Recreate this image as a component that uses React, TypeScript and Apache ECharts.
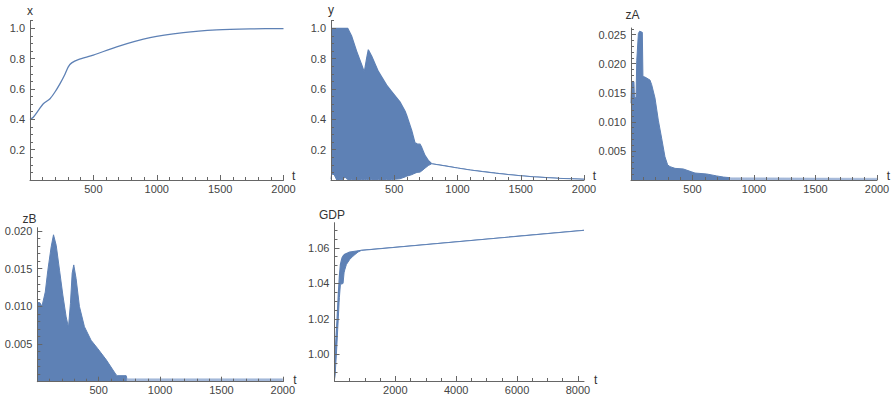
import React, { useEffect, useRef } from "react";
import * as echarts from "echarts";

const BLUE = "#5E81B5";
const LIGHT = "#a4b8d9";
const AXIS = "#666666";
const LABEL = "#444444";
const FONT = '"Liberation Sans", Arial, sans-serif';

// ---- panel "x" ----
const tX = [0, 26, 66, 105, 158, 197, 237, 276, 302, 329, 381, 500, 684, 947, 1210, 1473, 1736, 2000];
const xValues = [0.399, 0.414, 0.459, 0.503, 0.536, 0.58, 0.635, 0.697, 0.746, 0.772, 0.794, 0.823, 0.878, 0.938, 0.971, 0.989, 0.996, 0.998];

// ---- panel "y" (oscillating band: upper / lower envelope) ----
const tY = [0, 5, 25, 45, 60, 95, 110, 120, 132, 164, 203, 243, 263, 282, 295, 322, 374, 440, 480, 545, 585, 598, 638, 664, 680, 704, 717, 743, 769, 796, 900, 1000, 1100, 1200, 1300, 1400, 1500, 1600, 1700, 1800, 1900, 2000];
const yUpper = [1.0, 1.0, 1.0, 1.0, 1.0, 1.0, 1.0, 1.0, 1.0, 0.947, 0.848, 0.759, 0.712, 0.804, 0.859, 0.815, 0.716, 0.625, 0.583, 0.515, 0.455, 0.427, 0.327, 0.245, 0.238, 0.236, 0.215, 0.162, 0.129, 0.107, 0.093, 0.079, 0.066, 0.055, 0.045, 0.036, 0.028, 0.021, 0.016, 0.011, 0.008, 0.005];
const yLower = [0.005, 0.04, 0.035, 0.0, 0.0, 0.003, 0.02, 0.01, 0.003, 0.003, 0.003, 0.003, 0.003, 0.003, 0.003, 0.003, 0.003, 0.003, 0.003, 0.008, 0.02, 0.025, 0.035, 0.045, 0.05, 0.052, 0.06, 0.078, 0.095, 0.107, 0.093, 0.079, 0.066, 0.055, 0.045, 0.036, 0.028, 0.021, 0.016, 0.011, 0.008, 0.005];

// ---- panel "zA" ----
const tZA = [0, 5, 24, 28, 41, 47, 60, 70, 92, 97, 114, 154, 168, 195, 222, 249, 276, 298, 317, 358, 425, 493, 520, 616, 697, 752, 806];
const zAValues = [0.0132, 0.0168, 0.0169, 0.0141, 0.0142, 0.0206, 0.0252, 0.0256, 0.0254, 0.0178, 0.0177, 0.0172, 0.0164, 0.0141, 0.0103, 0.0072, 0.004, 0.0026, 0.0023, 0.002, 0.0019, 0.0014, 0.0012, 0.00103, 0.0007, 0.0005, 0.0004];
const tZATail = [806, 2000];
const zATail = [0.0004, 0.0003];

// ---- panel "zB" ----
const tZB = [0, 20, 38, 65, 86, 113, 132, 154, 181, 208, 235, 254, 270, 284, 297, 316, 343, 384, 438, 492, 562, 643, 650, 724, 730];
const zBValues = [0.0105, 0.0105, 0.01, 0.0119, 0.0148, 0.0179, 0.0195, 0.0181, 0.0148, 0.0115, 0.0086, 0.0072, 0.0104, 0.0144, 0.0155, 0.0137, 0.01, 0.0073, 0.0055, 0.0044, 0.0029, 0.0009, 0.0008, 0.0008, 0.0004];
const tZBTail = [730, 2000];
const zBTail = [0.0004, 0.0004];

// ---- panel "GDP" (band: upper / lower envelope) ----
const tG = [0, 20, 40, 62, 84, 105, 128, 150, 161, 194, 249, 281, 314, 336, 391, 500, 610, 774, 883, 8200];
const gdpUpper = [0.996, 1.001, 1.0066, 1.013, 1.0197, 1.027, 1.0347, 1.041, 1.0441, 1.0506, 1.0544, 1.0553, 1.0559, 1.0563, 1.0568, 1.0576, 1.0579, 1.0583, 1.0585, 1.0698];
const gdpLower = [0.986, 0.988, 0.994, 1.0, 1.007, 1.0141, 1.0215, 1.0291, 1.032, 1.0394, 1.0397, 1.0399, 1.0459, 1.0475, 1.0506, 1.0534, 1.0553, 1.0576, 1.0585, 1.0698];

type Panel = {
  left: number; top: number; width: number; height: number;
  xMin: number; xMax: number; yMin: number; yMax: number;
  xMajor: number; xMinor: number; yMajor: number; yMinor: number;
  xDec: number; yDec: number;
};

const r9 = (v: number) => Math.round(v * 1e9) / 1e9;
const pairs = (ts: number[], vs: number[]) => ts.map((t, i) => [t, vs[i]]);

function buildOption() {
  const option: any = { animation: false, grid: [], xAxis: [], yAxis: [], series: [], graphic: [] };

  const addGrid = (l: number, t: number, w: number, h: number) => {
    option.grid.push({ left: l, top: t, width: w, height: h, containLabel: false, outerBoundsMode: "none" });
    return option.grid.length - 1;
  };
  const dummy = (g: number) => ({ type: "value", gridIndex: g, show: false, min: 0, max: 1 });
  const fmt = (dec: number) => (v: number) => (Math.abs(v) < 1e-12 ? "" : v.toFixed(dec));
  const labelStyle = (dec: number, margin: number) => ({
    show: true, color: LABEL, fontSize: 11, fontFamily: FONT, margin, formatter: fmt(dec),
    showMinLabel: true, showMaxLabel: true,
  });

  const xTicks = (p: Panel, step: number, len: number, labels: boolean) => {
    const first = r9(Math.ceil(r9(p.xMin / step)) * step);
    const last = r9(Math.floor(r9(p.xMax / step)) * step);
    const sx = p.width / (p.xMax - p.xMin);
    const g = addGrid(p.left + (first - p.xMin) * sx, p.top, (last - first) * sx, p.height);
    option.xAxis.push({
      type: "value", gridIndex: g, min: first, max: last, interval: step, z: 6,
      axisLine: { show: false, onZero: false },
      axisTick: { show: true, inside: true, length: len, lineStyle: { color: AXIS, width: 1 } },
      axisLabel: labels ? labelStyle(p.xDec, 3) : { show: false },
      splitLine: { show: false },
    });
    option.yAxis.push(dummy(g));
  };
  const yTicks = (p: Panel, step: number, len: number, labels: boolean) => {
    const first = r9(Math.ceil(r9(p.yMin / step)) * step);
    const last = r9(Math.floor(r9(p.yMax / step)) * step);
    const sy = p.height / (p.yMax - p.yMin);
    const g = addGrid(p.left, p.top + (p.yMax - last) * sy, p.width, (last - first) * sy);
    option.yAxis.push({
      type: "value", gridIndex: g, min: first, max: last, interval: step, z: 6,
      axisLine: { show: false, onZero: false },
      axisTick: { show: true, inside: true, length: len, lineStyle: { color: AXIS, width: 1 } },
      axisLabel: labels ? labelStyle(p.yDec, 5) : { show: false },
      splitLine: { show: false },
    });
    option.xAxis.push(dummy(g));
  };

  const addPanel = (p: Panel) => {
    const g = addGrid(p.left, p.top, p.width, p.height);
    const xi = option.xAxis.length;
    option.xAxis.push({
      type: "value", gridIndex: g, min: p.xMin, max: p.xMax, z: 5,
      axisLine: { show: true, onZero: false, lineStyle: { color: AXIS, width: 1 } },
      axisTick: { show: false }, axisLabel: { show: false }, splitLine: { show: false },
    });
    const yi = option.yAxis.length;
    option.yAxis.push({
      type: "value", gridIndex: g, min: p.yMin, max: p.yMax, z: 5,
      axisLine: { show: true, onZero: false, lineStyle: { color: AXIS, width: 1 } },
      axisTick: { show: false }, axisLabel: { show: false }, splitLine: { show: false },
    });
    xTicks(p, p.xMinor, 3, false);
    xTicks(p, p.xMajor, 5, true);
    yTicks(p, p.yMinor, 3, false);
    yTicks(p, p.yMajor, 5, true);
    return { xAxisIndex: xi, yAxisIndex: yi };
  };

  const base = { type: "line", symbol: "none", showSymbol: false, silent: true };

  // band = upper envelope filled blue, then area below lower envelope masked white
  const band = (ax: any, ts: number[], up: number[], lo: number[]) => {
    option.series.push({ ...base, ...ax, z: 2, data: pairs(ts, up), lineStyle: { color: BLUE, width: 1.2 }, areaStyle: { color: BLUE, opacity: 1, origin: "start" } });
    option.series.push({ ...base, ...ax, z: 3, data: pairs(ts, lo), lineStyle: { color: BLUE, width: 1 }, areaStyle: { color: "#ffffff", opacity: 1, origin: "start" } });
  };

  // x
  const a1 = addPanel({ left: 30, top: 20.7, width: 253.5, height: 159.3, xMin: 0, xMax: 2000, yMin: 0, yMax: 1.05, xMajor: 500, xMinor: 100, yMajor: 0.2, yMinor: 0.05, xDec: 0, yDec: 1 });
  option.series.push({ ...base, ...a1, z: 2, data: pairs(tX, xValues), smooth: 0.25, lineStyle: { color: BLUE, width: 1.3 } });

  // y
  const a2 = addPanel({ left: 331, top: 20.7, width: 253, height: 159.3, xMin: 0, xMax: 2000, yMin: 0, yMax: 1.05, xMajor: 500, xMinor: 100, yMajor: 0.2, yMinor: 0.05, xDec: 0, yDec: 1 });
  band(a2, tY, yUpper, yLower);

  // zA
  const a3 = addPanel({ left: 631, top: 28, width: 246, height: 152, xMin: 0, xMax: 2000, yMin: 0, yMax: 0.02615, xMajor: 500, xMinor: 100, yMajor: 0.005, yMinor: 0.001, xDec: 0, yDec: 3 });
  option.series.push({ ...base, ...a3, z: 2, data: pairs(tZA, zAValues), lineStyle: { color: BLUE, width: 1 }, areaStyle: { color: BLUE, opacity: 1 } });
  option.series.push({ ...base, ...a3, z: 2, data: pairs(tZATail, zATail), lineStyle: { color: LIGHT, width: 0.5 }, areaStyle: { color: LIGHT, opacity: 1 } });

  // zB
  const a4 = addPanel({ left: 37.3, top: 227.7, width: 245.5, height: 154, xMin: 0, xMax: 2000, yMin: 0, yMax: 0.02044, xMajor: 500, xMinor: 100, yMajor: 0.005, yMinor: 0.001, xDec: 0, yDec: 3 });
  option.series.push({ ...base, ...a4, z: 2, data: pairs(tZB, zBValues), lineStyle: { color: BLUE, width: 1 }, areaStyle: { color: BLUE, opacity: 1 } });
  option.series.push({ ...base, ...a4, z: 2, data: pairs(tZBTail, zBTail), lineStyle: { color: LIGHT, width: 0.5 }, areaStyle: { color: LIGHT, opacity: 1 } });

  // GDP
  const a5 = addPanel({ left: 334.5, top: 222.7, width: 249.5, height: 158.3, xMin: 0, xMax: 8200, yMin: 0.985, yMax: 1.0741, xMajor: 2000, xMinor: 500, yMajor: 0.02, yMinor: 0.005, xDec: 0, yDec: 2 });
  band(a5, tG, gdpUpper, gdpLower);

  // axis names
  const name = (text: string, x: number, y: number, align: string) => ({
    type: "text", x, y, silent: true, z: 10,
    style: { text, fill: "#333333", font: `12px ${FONT}`, align, verticalAlign: "middle" },
  });
  option.graphic = [
    name("x", 30, 10.8, "center"),
    name("y", 331, 9.8, "center"),
    name("zA", 632.5, 14.8, "center"),
    name("zB", 29.5, 218.5, "center"),
    name("GDP", 332, 214.5, "center"),
    name("t", 292, 175.8, "left"),
    name("t", 592.7, 175.8, "left"),
    name("t", 886.7, 175.8, "left"),
    name("t", 293.3, 379.8, "left"),
    name("t", 594, 379.8, "left"),
  ];
  return option;
}

export default function App() {
  const ref = useRef<HTMLDivElement>(null);
  useEffect(() => {
    document.body.style.margin = "0";
    if (!ref.current) return;
    const chart = echarts.init(ref.current, undefined, { renderer: "svg" });
    chart.setOption(buildOption());
    return () => chart.dispose();
  }, []);
  return <div ref={ref} style={{ width: 893, height: 396, background: "#ffffff" }} />;
}
